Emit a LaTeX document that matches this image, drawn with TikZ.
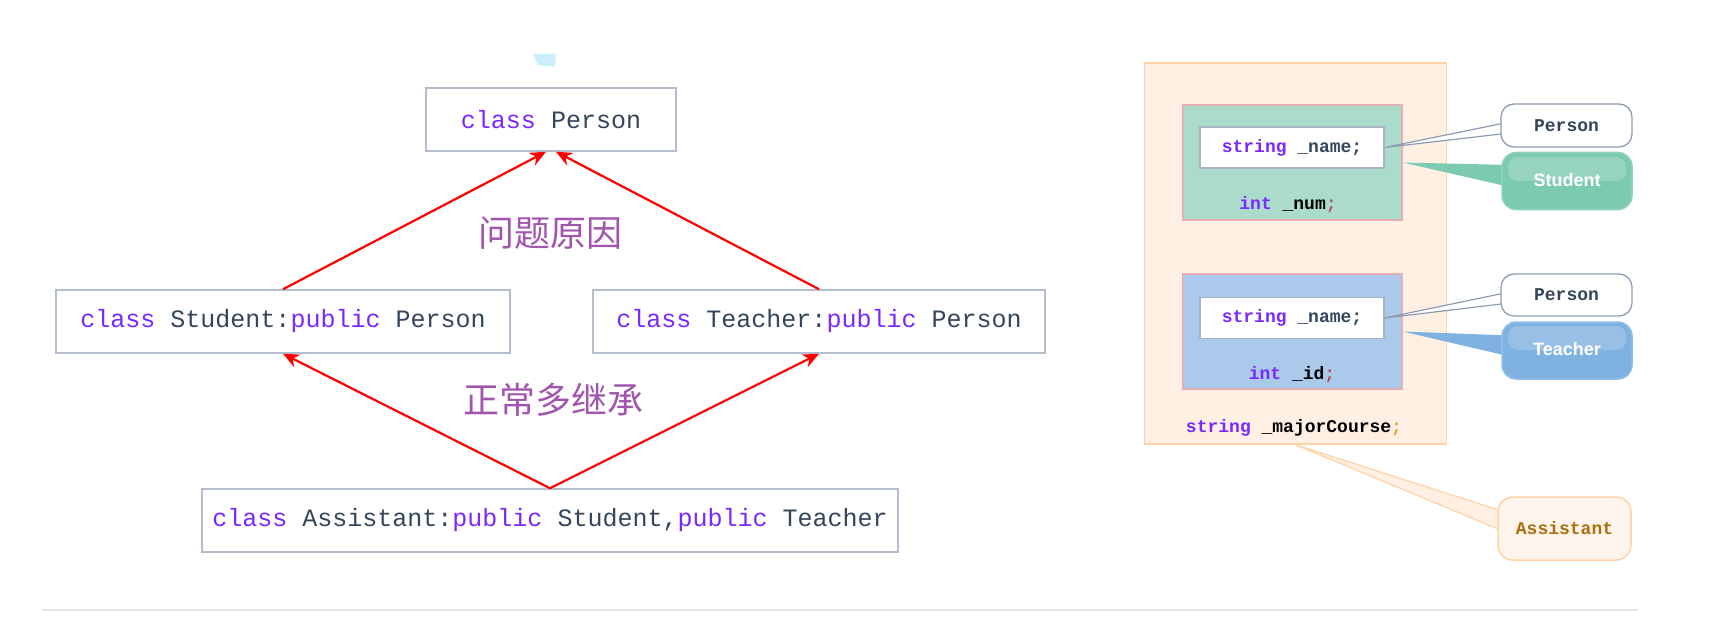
\documentclass[tikz,border=0pt]{standalone}
\usepackage{fontspec}
\setmainfont{Liberation Serif}
\setsansfont{Liberation Sans}
\setmonofont{Liberation Mono}
\newfontfamily\cjk{Noto Sans CJK SC}
\usetikzlibrary{arrows.meta,calc}
\definecolor{kw}{HTML}{7A28FF}
\definecolor{idf}{HTML}{34465C}
\definecolor{cn}{HTML}{A155AE}
\definecolor{boxb}{HTML}{B3BDCC}
\definecolor{peachf}{HTML}{FFF0E3}
\definecolor{peachb}{HTML}{FFD3A6}
\definecolor{greenf}{HTML}{AADBCB}
\definecolor{bluef}{HTML}{ABC9EA}
\definecolor{pinkb}{HTML}{E6AEB6}
\definecolor{wboxb}{HTML}{A9B5C5}
\definecolor{bubb}{HTML}{8E9CB3}
\definecolor{gbub}{HTML}{7CCAB1}
\definecolor{bbub}{HTML}{7FB1E1}
\definecolor{atext}{HTML}{A8700E}
\definecolor{semi}{HTML}{B05060}
\definecolor{semio}{HTML}{E0A030}
\newcommand\kwd[1]{\textcolor{kw}{#1}}
\tikzset{
  classbox/.style={draw=boxb,line width=1.5pt,fill=white,minimum height=63pt,inner sep=0pt,
    font=\ttfamily\fontsize{25}{30}\selectfont,text=idf},
  inh/.style={draw=red,line width=2.2pt,-{Stealth[length=16pt,width=14pt]}},
  cnlabel/.style={font=\cjk\fontsize{36}{40}\selectfont,text=cn},
  rtext/.style={font=\ttfamily\bfseries\fontsize{18}{22}\selectfont,text=black,inner sep=0pt},
  wbox/.style={draw=wboxb,line width=1.2pt,fill=white,minimum width=184pt,minimum height=41pt,inner sep=0pt,
    font=\ttfamily\bfseries\fontsize{18}{22}\selectfont,text=idf},
  pbub/.style={draw=bubb,line width=1.3pt,fill=white,rounded corners=13pt,minimum width=131pt,inner sep=0pt,
    font=\ttfamily\bfseries\fontsize{18}{22}\selectfont,text=idf},
  cbub/.style={rounded corners=14pt,minimum width=130pt,minimum height=57pt,inner sep=0pt,
    font=\sffamily\bfseries\fontsize{18}{22}\selectfont,text=white},
}
\begin{document}
\begin{tikzpicture}[x=1pt,y=-1pt]
\useasboundingbox (0,0) rectangle (1731,639);
\fill[white] (0,0) rectangle (1731,639);
% small cyan fragment
\fill[cyan!20] (533,54) -- (556,54) -- (555,67) -- (538,65) -- cycle;
% left diagram
\node[classbox,minimum width=250pt] (person) at (551,119.5) {\kwd{class} Person};
\node[classbox,minimum width=454pt] (student) at (283,321.5) {\kwd{class} Student:\kwd{public} Person};
\node[classbox,minimum width=452pt] (teacher) at (819,321.5) {\kwd{class} Teacher:\kwd{public} Person};
\node[classbox,minimum width=696pt] (assistant) at (550,520.5) {\kwd{class} Assistant:\kwd{public} Student,\kwd{public} Teacher};
\draw[inh] (student.north) -- ([xshift=-5pt]person.south);
\draw[inh] (teacher.north) -- ([xshift=5pt]person.south);
\draw[inh] (assistant.north) -- (student.south);
\draw[inh] (assistant.north) -- (teacher.south);
\node[cnlabel] (why) at (550,233) {问题原因};
\node[cnlabel] (multi) at (553,400) {正常多继承};
% bottom rule
\draw[draw=black!10,line width=1.5pt] (42,610) -- (1638,610);
% right diagram
\node[draw=peachb,fill=peachf,line width=1.5pt,minimum width=302pt,minimum height=381pt,inner sep=0pt] (outer) at (1295.5,253.5) {};
\node[draw=pinkb,fill=greenf,line width=1.3pt,minimum width=219pt,minimum height=115pt,inner sep=0pt] (stu) at (1292.5,162.5) {};
\node[wbox] (sname1) at (1292,147.5) {\kwd{string} \_name;};
\node[rtext] (num) at (1288,205) {\kwd{int} \_num\textcolor{semi}{;}};
\node[draw=pinkb,fill=bluef,line width=1.3pt,minimum width=219pt,minimum height=115pt,inner sep=0pt] (tea) at (1292.5,331.5) {};
\node[wbox] (sname2) at (1292,318) {\kwd{string} \_name;};
\node[rtext] (idn) at (1292,375) {\kwd{int} \_id\textcolor{semi}{;}};
\node[rtext] (major) at (1294,428) {\kwd{string} \_majorCourse\textcolor{semio}{;}};
% callout bubbles: tails first
\coordinate (pb1c) at (1566.5,125.5);
\coordinate (sbc) at (1567,181);
\coordinate (pb2c) at (1566.5,295);
\coordinate (tbc) at (1567,350.5);
\coordinate (abc) at (1564.5,528.5);
\filldraw[fill=white,draw=bubb,line width=1.2pt] ($(pb1c)+(-57,-3.5)$) -- (sname1.east) -- ($(pb1c)+(-57,7.5)$);
\fill[gbub] ($(sbc)+(-57,-16)$) -- (stu.east) -- ($(sbc)+(-57,6)$) -- cycle;
\filldraw[fill=white,draw=bubb,line width=1.2pt] ($(pb2c)+(-57,-3)$) -- (sname2.east) -- ($(pb2c)+(-57,8)$);
\fill[bbub] ($(tbc)+(-57,-15)$) -- (tea.east) -- ($(tbc)+(-57,6)$) -- cycle;
\filldraw[fill=peachf,draw=peachb,line width=1.2pt] ($(abc)+(-58,-16)$) -- (outer.south) -- ($(abc)+(-58,4)$);
% bubbles
\node[pbub,minimum height=43pt] (pb1) at (pb1c) {Person};
\node[cbub,fill=gbub,draw=gbub!85!white,line width=1.5pt] (sb) at (sbc) {};
\fill[white,opacity=0.2,rounded corners=10pt] (1508,157) rectangle (1626,181);
\node[font=\sffamily\bfseries\fontsize{18}{22}\selectfont,text=white] (sbt) at (1567,180) {Student};
\node[pbub,minimum height=42pt] (pb2) at (pb2c) {Person};
\node[cbub,fill=bbub,draw=bbub!85!white,line width=1.5pt] (tb) at (tbc) {};
\fill[white,opacity=0.2,rounded corners=10pt] (1508,326) rectangle (1626,350);
\node[font=\sffamily\bfseries\fontsize{18}{22}\selectfont,text=white] (tbt) at (1567,349) {Teacher};
\node[draw=peachb,fill=peachf!70!white,line width=1.5pt,rounded corners=15pt,minimum width=133pt,minimum height=63pt,inner sep=0pt,
  font=\ttfamily\bfseries\fontsize{18}{22}\selectfont,text=atext] (ab) at (abc) {Assistant};
\end{tikzpicture}
\end{document}
